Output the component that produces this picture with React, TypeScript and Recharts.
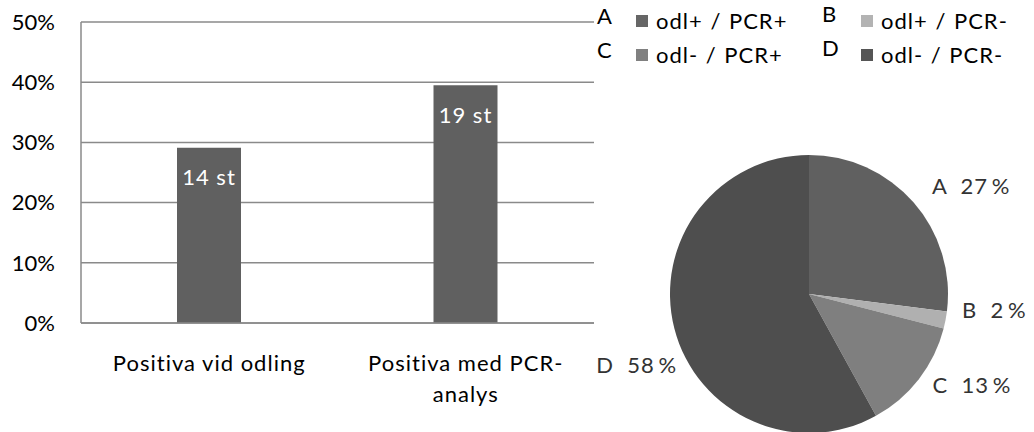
import { BarChart, Bar, XAxis, YAxis, CartesianGrid, LabelList, PieChart, Pie, Cell, Legend } from "recharts";

const FONT = "Lato, 'Open Sans', sans-serif";
const TEXT_STYLE = { letterSpacing: 1 };

// bar chart
const categories = ["Positiva vid odling", "Positiva med PCR-analys"];
const shares = [29.1, 39.5];
const counts = [14, 19];
const yTicks = [0, 10, 20, 30, 40, 50];

// pie chart
const pieLetters = ["A", "B", "C", "D"];
const pieNames = ["odl+ / PCR+", "odl+ / PCR-", "odl- / PCR+", "odl- / PCR-"];
const pieValues = [27, 2, 13, 58];

const PIE_COLORS = ["#606060", "#b0b0b0", "#7f7f7f", "#4e4e4e"];
const SWATCH_COLORS = ["#666666", "#b3b3b3", "#808080", "#555555"];
const BAR_COLOR = "#606060";
const GRID_COLOR = "#8a8a8a";

// small nudges so labels sit like the original best-fit placement
const LABEL_NUDGE = [
  { dx: 0, dy: 0 },
  { dx: -8, dy: -15 },
  { dx: -6, dy: -10 },
  { dx: 27, dy: 30 },
];

const barData = categories.map((c, i) => ({ name: c, share: shares[i], count: counts[i] }));
const pieData = pieLetters.map((l, i) => ({ letter: l, name: pieNames[i], value: pieValues[i] }));

function CategoryTick({ x, y, payload }: any) {
  const label: string = payload.value;
  const cut = label.indexOf("-");
  const lines = cut > 0 && cut < label.length - 1 ? [label.slice(0, cut + 1), label.slice(cut + 1)] : [label];
  return (
    <text x={x} y={y} textAnchor="middle" fontFamily={FONT} fontSize={22} fill="#000" style={TEXT_STYLE}>
      {lines.map((l, i) => (
        <tspan key={i} x={x} dy={i === 0 ? 40 : 31}>
          {l}
        </tspan>
      ))}
    </text>
  );
}

function BarValueLabel({ x, y, width, value }: any) {
  return (
    <text
      x={x + width / 2}
      y={y + 29}
      textAnchor="middle"
      dominantBaseline="central"
      fontFamily={FONT}
      fontSize={22}
      fill="#fff"
      style={TEXT_STYLE}
    >
      {`${value} st`}
    </text>
  );
}

const RAD = Math.PI / 180;

function PieLabel({ cx, cy, midAngle, outerRadius, index, payload }: any) {
  const r = outerRadius + 25;
  const x = cx + r * Math.cos(-midAngle * RAD) + LABEL_NUDGE[index].dx;
  const y = cy + r * Math.sin(-midAngle * RAD) + LABEL_NUDGE[index].dy;
  const right = x > cx;
  return (
    <text
      x={x}
      y={y}
      textAnchor={right ? "start" : "end"}
      dominantBaseline="central"
      fontFamily={FONT}
      fontSize={22}
      fill="#333"
      style={TEXT_STYLE}
    >
      {`${payload.letter}\u00a0\u00a0${payload.value}\u2009%`}
    </text>
  );
}

function PieLegend() {
  return (
    <div
      style={{
        display: "grid",
        gridTemplateColumns: "225px 200px",
        rowGap: 9,
        fontFamily: FONT,
        fontSize: 22,
        letterSpacing: 1,
        wordSpacing: 1,
        color: "#000",
      }}
    >
      {pieData.map((d, i) => (
        <div key={d.letter} style={{ display: "flex", alignItems: "center", height: 25, whiteSpace: "nowrap" }}>
          <span style={{ width: 39, position: "relative", top: i % 2 ? -7 : -5 }}>{d.letter}</span>
          <span style={{ width: 12, height: 12, background: SWATCH_COLORS[i], marginRight: 8, flex: "none" }} />
          <span>{d.name}</span>
        </div>
      ))}
    </div>
  );
}

export default function App() {
  return (
    <div style={{ position: "absolute", left: 0, top: 0, width: 1034, height: 432, background: "#fff" }}>
      <div style={{ position: "absolute", left: 0, top: 0 }}>
        <BarChart width={620} height={432} data={barData} margin={{ top: 22, right: 26, bottom: 49, left: 0 }}>
          <CartesianGrid vertical={false} stroke={GRID_COLOR} strokeWidth={1.5} />
          <XAxis
            dataKey="name"
            axisLine={{ stroke: GRID_COLOR, strokeWidth: 1.5 }}
            tickLine={false}
            height={60}
            interval={0}
            tick={<CategoryTick />}
          />
          <YAxis
            domain={[0, 50]}
            ticks={yTicks}
            width={81}
            axisLine={{ stroke: GRID_COLOR, strokeWidth: 1.5 }}
            tickLine={false}
            tickMargin={20}
            tickFormatter={(v) => `${v}%`}
            tick={{ fontFamily: FONT, fontSize: 22, fill: "#000" }}
          />
          <Bar dataKey="share" fill={BAR_COLOR} barSize={64} isAnimationActive={false}>
            <LabelList dataKey="count" content={<BarValueLabel />} />
          </Bar>
        </BarChart>
      </div>
      <div style={{ position: "absolute", left: 560, top: 0 }}>
        <PieChart width={474} height={432} margin={{ top: 0, right: 0, bottom: 0, left: 0 }}>
          <Legend
            content={<PieLegend />}
            layout="vertical"
            verticalAlign="top"
            align="right"
            wrapperStyle={{ left: 37, right: "auto", top: 8, width: 437 }}
          />
          <Pie
            data={pieData}
            dataKey="value"
            cx={249}
            cy={294}
            outerRadius={139}
            startAngle={90}
            endAngle={-270}
            stroke="none"
            label={<PieLabel />}
            labelLine={false}
            isAnimationActive={false}
          >
            {pieData.map((d, i) => (
              <Cell key={d.letter} fill={PIE_COLORS[i]} />
            ))}
          </Pie>
        </PieChart>
      </div>
    </div>
  );
}
